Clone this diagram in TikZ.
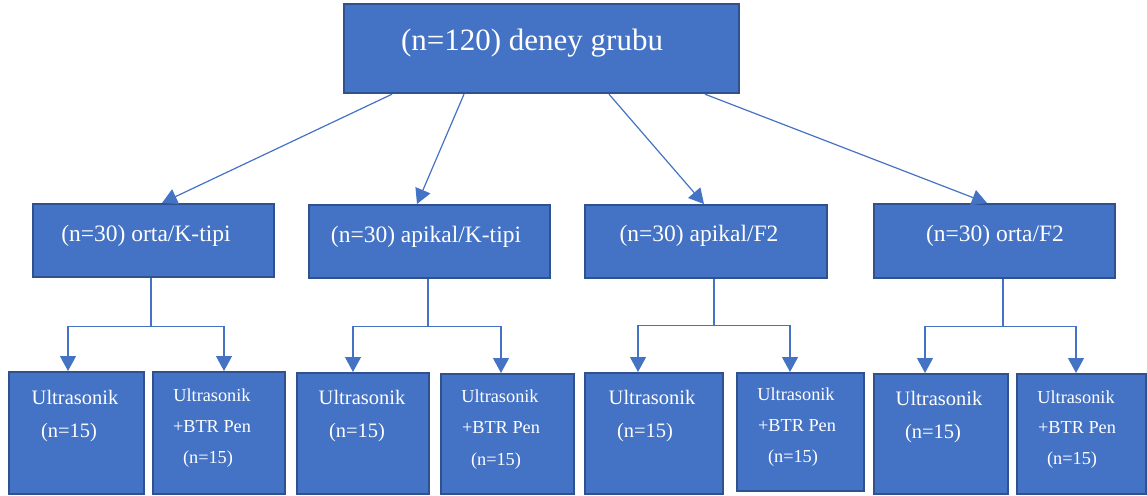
\documentclass[tikz,border=0pt]{standalone}
\usepackage{fontspec}
\setmainfont{Liberation Serif}
\usetikzlibrary{arrows.meta,calc}
\definecolor{boxfill}{HTML}{4472C4}
\definecolor{boxline}{HTML}{2F528F}
\definecolor{arr}{HTML}{4472C4}
\begin{document}
\begin{tikzpicture}[x=1pt,y=-1pt,
  box/.style={draw=boxline, line width=2.2pt, fill=boxfill, inner sep=0pt, anchor=north west},
  link/.style={draw=arr, line width=1.2pt},
  conn/.style={link, -{Triangle[length=15pt,width=16pt]}},
  txt/.style={text=white, inner sep=0pt},
  toptxt/.style={txt, font=\fontsize{31}{37}\selectfont},
  midtxt/.style={txt, font=\fontsize{23.5}{28}\selectfont},
  lowtxt/.style={txt, font=\fontsize{20.5}{24}\selectfont},
  smalltxt/.style={txt, font=\fontsize{18.3}{22}\selectfont}]
\useasboundingbox (0,0) rectangle (1147,495);

% top box
\node[box, minimum width=395pt, minimum height=89pt] (top) at (343,3) {};
\node[toptxt] (ttop) at (532,43) {(n=120) deney grubu};

% middle boxes
\node[box, minimum width=241pt, minimum height=73pt] (m1) at (32,203) {};
\node[box, minimum width=241pt, minimum height=73pt] (m2) at (308,204) {};
\node[box, minimum width=242pt, minimum height=73pt] (m3) at (584,204) {};
\node[box, minimum width=241pt, minimum height=74pt] (m4) at (873,203) {};
\node[midtxt] (tm1) at (146,236) {(n=30) orta/K-tipi};
\node[midtxt] (tm2) at (426,237) {(n=30) apikal/K-tipi};
\node[midtxt] (tm3) at (699,236) {(n=30) apikal/F2};
\node[midtxt] (tm4) at (995,236) {(n=30) orta/F2};

% bottom boxes
\node[box, minimum width=135pt, minimum height=122pt] (b1) at (8,371) {};
\node[box, minimum width=132pt, minimum height=122pt] (b2) at (152,371) {};
\node[box, minimum width=132pt, minimum height=121pt] (b3) at (296,372) {};
\node[box, minimum width=133pt, minimum height=120pt] (b4) at (440,373) {};
\node[box, minimum width=138pt, minimum height=121pt] (b5) at (584,372) {};
\node[box, minimum width=127pt, minimum height=118pt] (b6) at (736,372) {};
\node[box, minimum width=134pt, minimum height=120pt] (b7) at (873,373) {};
\node[box, minimum width=129pt, minimum height=120pt] (b8) at (1016,373) {};

% bottom texts (left boxes)
\node[lowtxt] (u1) at (75,397) {Ultrasonik};
\node[lowtxt] (n1) at (69,433) {(n=15)};
\node[lowtxt] (u3) at (362,397) {Ultrasonik};
\node[lowtxt] (n3) at (357,433) {(n=15)};
\node[lowtxt] (u5) at (652,397) {Ultrasonik};
\node[lowtxt] (n5) at (645,433) {(n=15)};
\node[lowtxt] (u7) at (939,398) {Ultrasonik};
\node[lowtxt] (n7) at (933,434) {(n=15)};

% bottom texts (right boxes)
\node[smalltxt] (u2) at (212,395) {Ultrasonik};
\node[smalltxt] (p2) at (212,427) {+BTR Pen};
\node[smalltxt] (n2) at (208,459) {(n=15)};
\node[smalltxt] (u4) at (500,396) {Ultrasonik};
\node[smalltxt] (p4) at (501,428) {+BTR Pen};
\node[smalltxt] (n4) at (496,461) {(n=15)};
\node[smalltxt] (u6) at (796,394) {Ultrasonik};
\node[smalltxt] (p6) at (797,426) {+BTR Pen};
\node[smalltxt] (n6) at (793,458) {(n=15)};
\node[smalltxt] (u8) at (1076,397) {Ultrasonik};
\node[smalltxt] (p8) at (1077,428) {+BTR Pen};
\node[smalltxt] (n8) at (1072,460) {(n=15)};

% top -> middle
\draw[conn] ($(top.south west)+(49,0)$) -- ($(m1.north west)+(130,0)$);
\draw[conn] ($(top.south west)+(121,0)$) -- ($(m2.north west)+(109,0)$);
\draw[conn] ($(top.south west)+(266,0)$) -- ($(m3.north west)+(120,0)$);
\draw[conn] ($(top.south west)+(362,0)$) -- ($(m4.north west)+(114,0)$);

% middle -> bottom
\draw[link] ($(m1.south west)+(119,0)$) -- ++(0,48) coordinate (j1);
\draw[conn] (j1) -| ($(b1.north west)+(60,0)$);
\draw[conn] (j1) -| ($(b2.north west)+(72,0)$);
\draw[link] ($(m2.south west)+(120,0)$) -- ++(0,47) coordinate (j2);
\draw[conn] (j2) -| ($(b3.north west)+(57,0)$);
\draw[conn] (j2) -| ($(b4.north west)+(61,0)$);
\draw[link] ($(m3.south west)+(130,0)$) -- ++(0,46) coordinate (j3);
\draw[conn] (j3) -| ($(b5.north west)+(54,0)$);
\draw[conn] (j3) -| ($(b6.north west)+(54,0)$);
\draw[link] ($(m4.south west)+(130,0)$) -- ++(0,47) coordinate (j4);
\draw[conn] (j4) -| ($(b7.north west)+(52,0)$);
\draw[conn] (j4) -| ($(b8.north west)+(60,0)$);
\end{tikzpicture}
\end{document}
